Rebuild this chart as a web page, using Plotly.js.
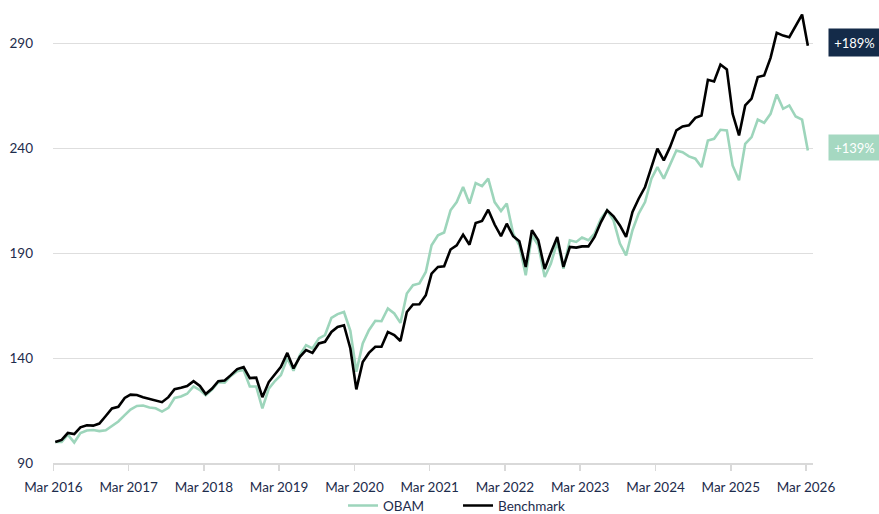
<!DOCTYPE html>
<html>
<head>
<meta charset="utf-8">
<script src="https://cdn.plot.ly/plotly-3.0.1.min.js"></script>
<style>
  html, body { margin: 0; padding: 0; background: #ffffff; }
  #chart { width: 879px; height: 514px; }
</style>
</head>
<body>
<div id="chart"></div>
<script>
// Monthly observations, Mar 2016 .. Mar 2026 (121 points)
const startYear = 2016, startMonth = 3, nPoints = 121;

const obam = [
  100, 100, 103.5, 99.8, 104.3, 105.5, 105.7, 105.2, 105.6, 107.5, 109.8, 112.8,
  115.5, 117.2, 117.4, 116.5, 116.1, 114.5, 116.3, 121, 121.7, 123, 126.5, 124.8,
  122.3, 125, 128.5, 128.3, 131.5, 133.8, 134.3, 126.5, 126.5, 116, 125.5, 129.2,
  131.9, 139.9, 134, 141.4, 146.2, 144.6, 149.4, 151, 159.2, 161, 162, 153,
  133.5, 147, 153.3, 157.8, 157.6, 163.7, 161.3, 156.8, 170.8, 174.8, 175.6, 181.1,
  193.8, 198.6, 199.9, 210.5, 214.4, 221.6, 213.7, 223.5, 222, 225.6, 214.4, 210.1,
  213.7, 199.4, 193.8, 179.5, 198.6, 193.8, 178.7, 185.1, 195.4, 182.7, 196.2, 195.4,
  197.5, 196.2, 199.4, 206.5, 210.5, 205.7, 194.6, 189, 201, 208.9, 214.4, 225.6,
  231.1, 225.6, 231.9, 239, 238.2, 236.2, 235.1, 231.1, 243.8, 244.6, 248.9, 248.6,
  231.9, 224.8, 242.2, 245.4, 253.7, 252.2, 256.5, 265.7, 258.9, 260.5, 255.2, 253.7,
  239
];

const benchmark = [
  100, 101, 104.3, 103.8, 107, 108, 107.8, 108.8, 112.4, 116, 116.8, 121,
  122.6, 122.4, 121.4, 120.5, 119.7, 119, 121.4, 125.2, 125.9, 126.7, 129, 126.7,
  122.9, 125.5, 129, 129.3, 131.9, 134.8, 135.7, 130.5, 130.7, 121.4, 128.6, 132.4,
  135.9, 142.5, 135.1, 140.6, 143.8, 142.5, 147, 147.8, 152.5, 154.9, 155.7, 144.6,
  125.1, 138.2, 142.5, 145.4, 145.4, 152.5, 151, 148.2, 162, 165.6, 165.7, 170,
  180.3, 183.5, 183.8, 191.8, 193.8, 198.9, 194.1, 204.4, 205.4, 210.8, 203.7, 198.2,
  204.1, 198.1, 195.7, 183.5, 201, 196.2, 182.5, 190.3, 197.8, 183.5, 193, 192.7,
  193.3, 193.3, 197.8, 204.9, 210.5, 207.6, 203.3, 197.8, 209.7, 216, 221.6, 231.1,
  239.9, 234.3, 240.6, 248.6, 250.5, 251, 254.6, 255.7, 272.7, 271.9, 280, 277.6,
  256.5, 246.2, 260.5, 263.7, 274, 274.8, 283.2, 295.1, 293.8, 293, 298.6, 303.8,
  289
];

const seriesNames = ['OBAM', 'Benchmark'];
const yTicks = [90, 140, 190, 240, 290];

// date axis positions for the monthly observations
const dates = [];
for (let i = 0; i < nPoints; i++) {
  const m0 = startMonth - 1 + i;
  const y = startYear + Math.floor(m0 / 12);
  const m = (m0 % 12) + 1;
  dates.push(y + '-' + String(m).padStart(2, '0') + '-10');
}

const green = '#9dd5bb';
const black = '#000000';
const navy = '#142b49';
const textColor = '#1d2c4c';

const traces = [
  { x: dates, y: obam, name: seriesNames[0], type: 'scatter', mode: 'lines',
    line: { color: green, width: 2.6 } },
  { x: dates, y: benchmark, name: seriesNames[1], type: 'scatter', mode: 'lines',
    line: { color: black, width: 2.6 } }
];

function pct(arr) {
  const v = Math.round((arr[arr.length - 1] / arr[0] - 1) * 100);
  return (v >= 0 ? '+' : '') + v + '%';
}

const layout = {
  width: 879, height: 514,
  margin: { l: 53, r: 66, t: 10, b: 51 },
  paper_bgcolor: '#ffffff', plot_bgcolor: '#ffffff',
  font: { family: 'Lato, "Open Sans", sans-serif', size: 14, color: textColor },
  showlegend: true,
  legend: {
    orientation: 'h', xref: 'paper', x: 0.3816, xanchor: 'left',
    yref: 'container', y: 0.016, yanchor: 'middle',
    font: { size: 13.5, color: textColor }, bgcolor: 'rgba(0,0,0,0)',
    entrywidth: 70, entrywidthmode: 'pixels', tracegroupgap: 0
  },
  xaxis: {
    type: 'date',
    range: ['2016-02-28', '2026-04-04'],
    tick0: '2016-03-01', dtick: 'M12', tickformat: '%b %Y',
    showgrid: false, zeroline: false,
    showline: true, linecolor: '#d9d9d9', linewidth: 2,
    ticks: 'outside', ticklen: 6, tickwidth: 1.5, tickcolor: '#d9d9d9',
    ticklabelstandoff: 5,
    tickfont: { size: 13.5, color: textColor },
    fixedrange: true
  },
  yaxis: {
    range: [90, 306],
    tickvals: yTicks,
    showgrid: true, gridcolor: '#dedede', gridwidth: 1,
    zeroline: false, showline: false, ticks: '',
    ticklabelstandoff: 19,
    tickfont: { size: 13.5, color: textColor },
    fixedrange: true
  },
  annotations: [
    { xref: 'paper', yref: 'y', x: 1, y: benchmark[benchmark.length - 1],
      xanchor: 'left', yanchor: 'middle', xshift: 15, yshift: 3,
      text: pct(benchmark), showarrow: false,
      bgcolor: navy, width: 51, height: 27, borderpad: 0, align: 'center',
      font: { color: '#ffffff', size: 13, family: 'Lato, sans-serif' } },
    { xref: 'paper', yref: 'y', x: 1, y: obam[obam.length - 1],
      xanchor: 'left', yanchor: 'middle', xshift: 15, yshift: 3,
      text: pct(obam), showarrow: false,
      bgcolor: '#a5d8c1', width: 51, height: 25, borderpad: 0, align: 'center',
      font: { color: '#ffffff', size: 13, family: 'Lato, sans-serif' } }
  ]
};

Plotly.newPlot('chart', traces, layout, { displayModeBar: false, staticPlot: true });
</script>
</body>
</html>
